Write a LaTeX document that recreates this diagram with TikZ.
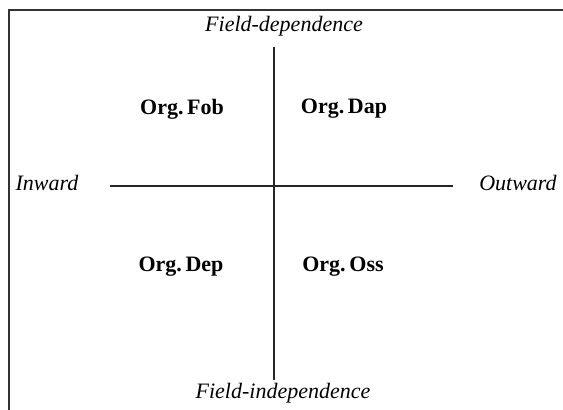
\documentclass[tikz,border=0pt]{standalone}
\usepackage{fontspec}
\setmainfont{Liberation Serif}
\tikzset{
  asse/.style={draw=black!85, line width=1.4pt},
  polo/.style={font=\fontsize{22}{25}\selectfont\itshape, inner sep=0pt},
  quadrante/.style={font=\fontsize{22}{25}\selectfont\bfseries, inner sep=0pt}
}
\begin{document}
\begin{tikzpicture}[x=1pt, y=1pt]
    \useasboundingbox (0,0) rectangle (563,410);
    % Cornice
    \draw[black!80, line width=1.2pt] (9,0) -- (9,400) -- (563,400);
    % Assi
    \coordinate (su) at (274,363);
    \coordinate (giu) at (274,30);
    \coordinate (sx) at (110,224);
    \coordinate (dx) at (453,224);
    \draw[asse] (su) -- (giu);
    \draw[asse] (sx) -- (dx);
    % Poli
    \node[polo] (dip) at (284,384) {Field-dependence};
    \node[polo] (indip) at (283,17) {Field-independence};
    \node[polo] (inward) at (47,227) {Inward};
    \node[polo] (outward) at (518,227) {Outward};
    % Quadranti
    \node[quadrante] (fob) at (182,301) {Org.\,Fob};
    \node[quadrante] (dap) at (344,301) {Org.\,Dap};
    \node[quadrante] (dep) at (181,143) {Org.\,Dep};
    \node[quadrante] (oss) at (343,143) {Org.\,Oss};
\end{tikzpicture}
\end{document}
